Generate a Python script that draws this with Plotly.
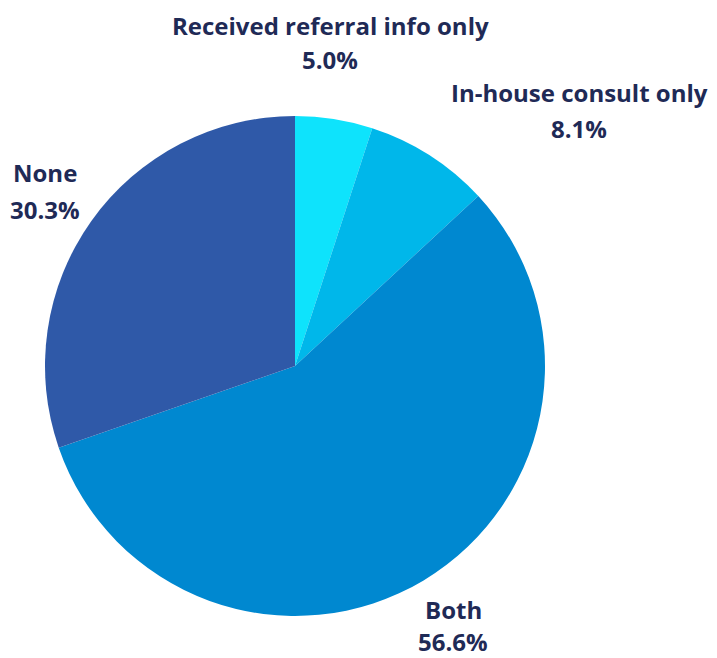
import plotly.graph_objects as go

labels = ["Received referral info only", "In-house consult only", "Both", "None"]
values = [5.0, 8.1, 56.6, 30.3]
colors = ["#0EE3FC", "#00B7EA", "#0088D0", "#2F59A8"]

OFF = 8  # page body margin
W, H = 717 - OFF, 658 - OFF
cx, cy, r = 295 - OFF, 366 - OFF, 250

# label placement in picture pixels: (centre x, name line y, value line y)
label_pos = [(330, 25, 60), (579, 92, 128), (453, 609, 641), (45, 172, 210)]

fig = go.Figure(go.Pie(
    labels=labels,
    values=values,
    sort=False,
    direction="clockwise",
    rotation=0,
    marker=dict(colors=colors, line=dict(width=0)),
    textinfo="none",
    automargin=False,
    showlegend=False,
    hoverinfo="label+percent",
    domain=dict(x=[(cx - r) / W, (cx + r) / W], y=[1 - (cy + r) / H, 1 - (cy - r) / H]),
))

font = dict(family="Open Sans", size=24, color="#1F2A56")
for lab, val, (px, y1, y2) in zip(labels, values, label_pos):
    for txt, py in ((lab, y1), (f"{val:.1f}%", y2)):
        fig.add_annotation(
            x=(px - OFF) / W, y=1 - (py - OFF) / H, xref="paper", yref="paper",
            text=f"<b>{txt}</b>",
            showarrow=False, xanchor="center", yanchor="middle", align="center",
            font=font,
        )

fig.update_layout(
    width=W, height=H,
    margin=dict(l=0, r=0, t=0, b=0),
    paper_bgcolor="white",
    plot_bgcolor="white",
)
fig.write_html("out.html")
